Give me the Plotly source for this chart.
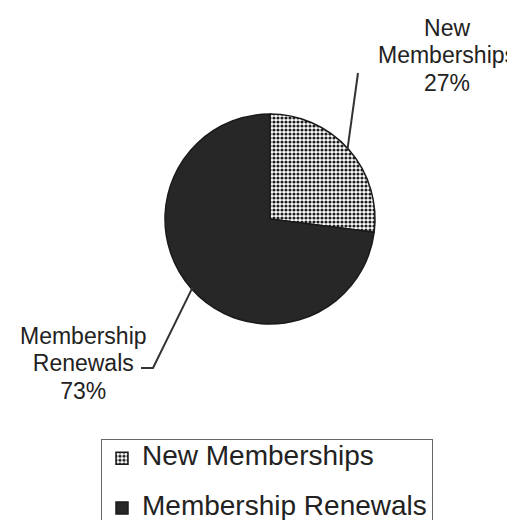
import math
import plotly.graph_objects as go

# ---- data ----
categories = ["New Memberships", "Membership Renewals"]
values = [27, 73]
slice_colors = ["white", "#272727"]

# ---- layout constants (pixels) ----
W, H = 515, 520
CX, CY, R = 262, 211, 105
FONT = "Liberation Sans, Arial, sans-serif"
TXT = "#222222"

total = sum(values)
pct = [round(100 * v / total) for v in values]


def px2paper(x, y):
    return x / W, 1 - y / H


# slice mid angles (clockwise from 12 o'clock)
mids = []
cum = 0
for v in values:
    mids.append(360 * (cum + v / 2) / total)
    cum += v


def edge_point(theta, r):
    t = math.radians(theta)
    return CX + r * math.sin(t), CY - r * math.cos(t)


# legend entries: big text on first line, empty second line for row spacing
legend_labels = [f"<span style='font-size:28px'>{c}</span><br>&nbsp;" for c in categories]

fig = go.Figure(
    go.Pie(
        labels=legend_labels,
        values=values,
        sort=False,
        direction="clockwise",
        rotation=0,
        textinfo="none",
        hoverinfo="percent",
        marker=dict(
            colors=slice_colors,
            line=dict(color="#1a1a1a", width=1.5),
            pattern=dict(
                shape=[".", ""],
                fgcolor="#1e1e1e",
                bgcolor=["white", "#272727"],
                size=4,
                solidity=0.5,
            ),
        ),
        domain=dict(
            x=[(CX - R) / W, (CX + R) / W],
            y=[1 - (CY + R) / H, 1 - (CY - R) / H],
        ),
    )
)

# leader lines
p_new = edge_point(mids[0], R - 2)
p_ren = edge_point(mids[1], R - 2)
a = px2paper(*p_new)
b = px2paper(350, 65)
shapes = [
    dict(type="line", xref="paper", yref="paper",
         x0=a[0], y0=a[1], x1=b[0], y1=b[1],
         line=dict(color="#333333", width=2)),
]
r0 = px2paper(*p_ren)
r1 = px2paper(145, 360)
r2 = px2paper(133, 360)
shapes.append(dict(
    type="path", xref="paper", yref="paper",
    path=f"M {r0[0]},{r0[1]} L {r1[0]},{r1[1]} L {r2[0]},{r2[1]}",
    line=dict(color="#333333", width=2),
))


def label_text(cat, p):
    parts = cat.split(" ") + [f"{p}%"]
    return "<br>".join(f"<span style='font-size:23px'>{s}</span>" for s in parts)


n_xy = px2paper(439, 47)
r_xy = px2paper(75, 355)
annotations = [
    dict(text=label_text(categories[0], pct[0]), x=n_xy[0], y=n_xy[1],
         xref="paper", yref="paper",
         showarrow=False, xanchor="center", yanchor="middle",
         font=dict(family=FONT, size=21, color=TXT)),
    dict(text=label_text(categories[1], pct[1]), x=r_xy[0], y=r_xy[1],
         xref="paper", yref="paper",
         showarrow=False, xanchor="center", yanchor="middle",
         font=dict(family=FONT, size=21, color=TXT)),
]

lx, ly = px2paper(93, 431)
fig.update_layout(
    width=W, height=H,
    margin=dict(l=0, r=0, t=0, b=0, autoexpand=False),
    paper_bgcolor="white",
    plot_bgcolor="white",
    shapes=shapes,
    annotations=annotations,
    showlegend=True,
    legend=dict(
        x=lx, y=ly, xanchor="left", yanchor="top",
        valign="top",
        font=dict(family=FONT, size=18, color=TXT),
        bordercolor="#666666", borderwidth=1, bgcolor="white",
    ),
)

fig.write_html("out.html")
